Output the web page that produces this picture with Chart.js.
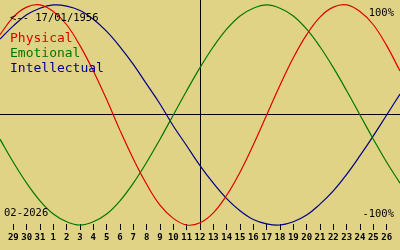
<!DOCTYPE html>
<html>
<head>
<meta charset="utf-8">
<script src="https://cdn.jsdelivr.net/npm/chart.js@4"></script>
<style>
  html, body { margin: 0; padding: 0; background: #e0d385; }
  #wrap { width: 400px; height: 250px; }
</style>
</head>
<body>
<div id="wrap"><canvas id="bio" width="400" height="250"></canvas></div>
<script>
// biorhythm for someone born 17/01/1956, month 02-2026, today = 12
const birthLabel = "<-- 17/01/1956";
const monthLabel = "02-2026";
const dayLabels = ["29", "30", "31", "1", "2", "3", "4", "5", "6", "7", "8", "9", "10", "11",
  "12", "13", "14", "15", "16", "17", "18", "19", "20", "21", "22", "23", "24", "25", "26"];
const todayIndex = 15;

// values in %, one per day from 28/01 to 27/02 (index 0..30)
const physical = [73, 89, 98, 100, 94, 82, 63, 40, 14, -14, -40, -63, -82, -94, -100, -98,
  -89, -73, -52, -27, 0, 27, 52, 73, 89, 98, 100, 94, 82, 63, 40];
const emotional = [-22, -43, -62, -78, -90, -97, -100, -97, -90, -78, -62, -43, -22, 0, 22, 43,
  62, 78, 90, 97, 100, 97, 90, 78, 62, 43, 22, 0, -22, -43, -62];
const intellectual = [69, 81, 91, 97, 100, 99, 95, 87, 76, 62, 46, 28, 10, -10, -28, -46,
  -62, -76, -87, -95, -99, -100, -97, -91, -81, -69, -54, -37, -19, 0, 19];

const series = [
  { name: "Physical", values: physical, color: "#e00000" },
  { name: "Emotional", values: emotional, color: "#007800" },
  { name: "Intellectual", values: intellectual, color: "#000088" }
];

const textPlugin = {
  id: "bioText",
  afterDatasetsDraw(chart) {
    const c = chart.ctx;
    c.save();
    c.textBaseline = "alphabetic";
    c.textAlign = "left";
    c.fillStyle = "#000";
    c.font = "10.5px 'DejaVu Sans Mono'";
    c.fillText(birthLabel, 10, 21);
    c.fillText(monthLabel, 4, 216);
    c.textAlign = "right";
    c.fillText("100%", 394, 16);
    c.fillText("-100%", 394, 217);
    c.textAlign = "left";
    c.font = "13px 'DejaVu Sans Mono'";
    series.forEach((s, i) => {
      c.fillStyle = s.color;
      c.fillText(s.name, 10, 42 + i * 15);
    });
    c.restore();
  }
};

new Chart(document.getElementById("bio"), {
  type: "line",
  data: {
    datasets: series.map(s => ({
      label: s.name,
      data: s.values.map((v, i) => ({ x: i, y: v })),
      borderColor: s.color,
      borderWidth: 1.2,
      pointRadius: 0,
      tension: 0.4,
      clip: false
    }))
  },
  options: {
    responsive: false,
    animation: false,
    layout: { padding: 0, autoPadding: false },
    plugins: { legend: { display: false }, tooltip: { enabled: false } },
    scales: {
      x: {
        type: "linear",
        min: 0,
        max: 30,
        afterBuildTicks: s => { s.ticks = dayLabels.map((d, i) => ({ value: i + 1 })); },
        afterFit: s => { s.height = 26; },
        border: { display: false },
        grid: {
          drawOnChartArea: true,
          drawTicks: true,
          tickLength: 6,
          tickColor: "#000",
          color: ctx => (ctx.tick && ctx.tick.value === todayIndex) ? "#000" : "rgba(0,0,0,0)",
          lineWidth: 1
        },
        ticks: {
          autoSkip: false,
          maxRotation: 0,
          padding: 2,
          color: "#000",
          font: { family: "'DejaVu Sans Mono'", size: 9, weight: "bold" },
          callback: v => dayLabels[v - 1]
        }
      },
      y: {
        min: -99.1,
        max: 104.5,
        afterBuildTicks: s => { s.ticks = [{ value: 0 }]; },
        afterFit: s => { s.width = 0; },
        border: { display: false },
        grid: { color: "#000", lineWidth: 1, drawTicks: false },
        ticks: { display: false }
      }
    }
  },
  plugins: [textPlugin]
});
</script>
</body>
</html>
